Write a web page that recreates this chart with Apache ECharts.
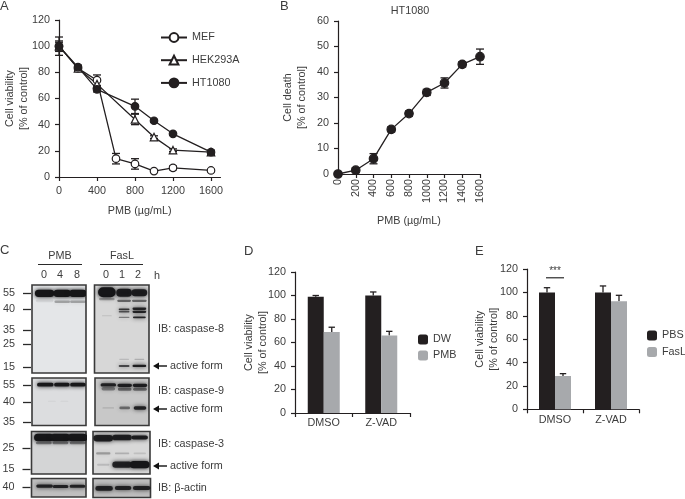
<!DOCTYPE html>
<html><head><meta charset="utf-8">
<style>html,body{margin:0;padding:0;background:#fff}#c{width:685px;height:499px}</style>
<script src="https://cdn.jsdelivr.net/npm/echarts@6/dist/echarts.min.js"></script>
</head><body><div id="c"></div>
<script>
// ---- Panel A
const mefDose=[0,200,400,600,800,1000,1200,1600];
const mefVal=[100,83,74,14,10,4.5,7,5];
const mefErr=[4,1.5,4,4,4,1,1.5,1];
const hekDose=[0,200,400,800,1000,1200,1600];
const hekVal=[100,83,71,44,30.5,20.5,19];
const hekErr=[3,1.5,3,4,1,1,1];
const htDose=[0,200,400,800,1000,1200,1600];
const htVal=[100,84,67,54,43,33,19];
const htErr=[7,1.5,2,5.5,1,1,1.5];
// ---- Panel B
const deathDose=[0,200,400,600,800,1000,1200,1400,1600];
const deathVal=[0,1.5,6,17.5,23.7,32,35.7,43,46];
const deathErr=[0.5,1,2,1,1,1.2,2,1,3];
// ---- Panel D
const barCats=['DMSO','Z-VAD'];
const dwVal=[99,100]; const dwErr=[1,3];
const pmbVal=[69,66]; const pmbErr=[4,3.5];
// ---- Panel E
const pbsVal=[100,100]; const pbsErr=[4,5.5];
const faslVal=[28.5,92.5]; const faslErr=[2,5];
// ---- Panel C blots: [lane, migration %, intensity, band width, band thickness]
const cas8Pmb=[[0.2,9.5,1,1.0,7],[1.18,9.5,1,0.9,7],[2.05,9.5,1,0.9,7],[0.2,18,0.08,0.9,2.5],[1.18,19,0.3,0.8,2.5],[2.05,19,0.3,0.8,2.5]];
const cas8Fas=[[0.18,8.3,1,0.9,9.5],[1.13,8.8,0.95,0.8,7.5],[1.97,8.8,0.95,0.8,6.5],[0.18,16,0.3,0.8,2],[1.13,18,0.55,0.7,2],[1.97,18,0.55,0.75,2],[1.13,27.6,0.8,0.55,1.6],[1.97,27,0.9,0.7,2.2],[1.13,30.5,0.65,0.55,1.4],[1.97,30.5,0.9,0.7,2.2],[1.13,36.7,0.45,0.55,1.2],[1.97,36.7,0.9,0.65,1.6],[0.18,35,0.12,0.5,1],[1.13,92,0.7,0.55,1.8],[1.97,92,0.95,0.7,2.2],[1.13,84.5,0.15,0.5,1],[1.97,84.5,0.2,0.5,1]];
const cas9Pmb=[[0.24,14,0.98,0.85,6.5],[1.16,14,0.98,0.8,6.5],[2.05,14,0.98,0.8,6.5],[0.6,49,0.05,0.4,2],[1.3,49,0.05,0.4,2]];
const cas9Fas=[[0.24,14.5,0.9,0.8,6],[1.15,15.5,0.92,0.75,6],[2,15.5,0.92,0.75,6],[0.24,22.5,0.4,0.7,6],[1.15,23.5,0.5,0.7,6],[2,23.5,0.5,0.7,6],[0.24,63,0.1,0.6,3],[1.15,63,0.5,0.55,5],[2,63,0.9,0.65,6]];
const cas3Pmb=[[0.18,14,1,1.0,15],[1.09,14,1,1.0,15],[2.04,14,1,1.0,15],[0.18,27,0.45,0.8,5],[1.09,27,0.45,0.8,5],[2.04,27,0.45,0.8,5]];
const cas3Fas=[[0.04,16,0.92,0.95,13],[1.03,14,0.92,0.95,11],[1.96,14,0.95,0.8,8],[0.04,51.5,0.3,0.7,4],[1.03,51.5,0.2,0.7,3],[1.96,51.5,0.12,0.6,3],[0.04,78,0.15,0.6,4],[1.03,78,0.9,0.95,12],[1.96,78,1,0.95,14]];
const actinPmb=[[0.22,41,0.9,0.85,14],[1.1,43,0.9,0.8,14],[2.03,42,0.9,0.8,14]];
const actinFas=[[0.08,52,0.9,0.85,20],[1.07,50,0.9,0.8,18],[2.04,50,0.9,0.85,18]];
// kDa ladders: [migration %, label]
const cas8Ladder=[[9.5,'55'],[27.6,'40'],[51,'35'],[67.4,'25'],[93.5,'15']];
const cas9Ladder=[[14.8,'55'],[50,'40'],[93.6,'35']];
const cas3Ladder=[[16.4,'35'],[38.4,'25'],[88,'15']];
const actinLadder=[[46,'40']];

const FONT='"Liberation Sans",Arial,sans-serif';
const INK='#231f20', TXT='#3c3c3c', GREY='#a7a9ac', FS=10.8;
const grids=[],xAxes=[],yAxes=[],series=[];

function addGrid(g,x,y){ grids.push(Object.assign({containLabel:false,outerBoundsMode:'none'},g)); xAxes.push(Object.assign({gridIndex:grids.length-1,nameMoveOverlap:false},x)); yAxes.push(Object.assign({gridIndex:grids.length-1,nameMoveOverlap:false},y)); return grids.length-1; }
const axLine={show:true,onZero:false,lineStyle:{color:INK,width:1.2}};
const axTick={show:true,length:4,inside:false,lineStyle:{color:INK,width:1.2}};
const axLab={color:TXT,fontSize:FS,fontFamily:FONT};
const nameSt={color:TXT,fontSize:FS,fontFamily:FONT,lineHeight:14};
const plain=v=>String(v);

function errSeries(i,name,xs,vals,errs,both,off,z){
  series.push({type:'custom',name:name+'-err',xAxisIndex:i,yAxisIndex:i,z:z||2,silent:true,clip:false,
    data:xs.map((x,k)=>[x,vals[k],vals[k]+errs[k],both?vals[k]-errs[k]:vals[k]]),encode:{x:0,y:2},
    renderItem:(p,api)=>{const a=api.coord([api.value(0),api.value(2)]),b=api.coord([api.value(0),api.value(3)]);
      const X=a[0]+(off||0),w=both?4:3.2,st={stroke:INK,lineWidth:1.3};
      const ch=[{type:'line',shape:{x1:X,y1:a[1],x2:X,y2:b[1]},style:st},{type:'line',shape:{x1:X-w,y1:a[1],x2:X+w,y2:a[1]},style:st}];
      if(both)ch.push({type:'line',shape:{x1:X-w,y1:b[1],x2:X+w,y2:b[1]},style:st});
      return {type:'group',children:ch};}});
}
function lineSeries(i,name,xs,vals,sym,size,fill){
  series.push({type:'line',name,xAxisIndex:i,yAxisIndex:i,z:4,clip:false,data:xs.map((x,k)=>[x,vals[k]]),
    symbol:sym,symbolSize:size,showSymbol:true,lineStyle:{color:INK,width:1.3},
    itemStyle:{color:fill,borderColor:INK,borderWidth:1.2}});
}
// A
const A=addGrid({left:59,top:20,width:161.5,height:157},
 {type:'value',min:0,max:1700,axisLine:axLine,axisTick:Object.assign({},axTick,{customValues:[0,400,800,1200,1600]}),
  axisLabel:Object.assign({},axLab,{customValues:[0,400,800,1200,1600],margin:9,formatter:plain}),splitLine:{show:false},
  name:'PMB (µg/mL)',nameLocation:'middle',nameGap:27,nameTextStyle:nameSt},
 {type:'value',min:0,max:120,interval:20,axisLine:axLine,axisTick:axTick,axisLabel:Object.assign({},axLab,{margin:9}),splitLine:{show:false},
  name:'Cell viability\n[% of control]',nameLocation:'middle',nameGap:28,nameRotate:90,nameTextStyle:nameSt});
errSeries(A,'MEF',mefDose,mefVal,mefErr,true);errSeries(A,'HEK',hekDose,hekVal,hekErr,true);errSeries(A,'HT',htDose,htVal,htErr,true);
lineSeries(A,'MEF',mefDose,mefVal,'circle',7.5,'#fff');
lineSeries(A,'HEK293A',hekDose,hekVal,'triangle',7.5,'#fff');
lineSeries(A,'HT1080',htDose,htVal,'circle',7.5,INK);
// B
const B=addGrid({left:338,top:21,width:142,height:153},
 {type:'value',min:0,max:1600,interval:200,axisLine:axLine,axisTick:axTick,axisLabel:Object.assign({},axLab,{rotate:90,margin:5,formatter:plain}),splitLine:{show:false},
  name:'PMB (µg/mL)',nameLocation:'middle',nameGap:40,nameTextStyle:nameSt},
 {type:'value',min:0,max:60,interval:10,axisLine:axLine,axisTick:axTick,axisLabel:Object.assign({},axLab,{margin:9}),splitLine:{show:false},
  name:'Cell death\n[% of control]',nameLocation:'middle',nameGap:29,nameRotate:90,nameTextStyle:nameSt});
errSeries(B,'death',deathDose,deathVal,deathErr,true);
lineSeries(B,'Death',deathDose,deathVal,'circle',8.5,INK);
// D and E bars
const BW=16;
function barPanel(g,n1,v1,e1,n2,v2,e2,gap){
  const i=addGrid(g,{type:'category',data:barCats,axisLine:axLine,axisTick:Object.assign({},axTick,{alignWithLabel:false}),axisLabel:Object.assign({},axLab,{margin:5}),splitLine:{show:false}},
   {type:'value',min:0,max:120,interval:20,axisLine:axLine,axisTick:axTick,axisLabel:Object.assign({},axLab,{margin:9}),splitLine:{show:false},
    name:'Cell viability\n[% of control]',nameLocation:'middle',nameGap:gap,nameRotate:90,nameTextStyle:nameSt});
  series.push({type:'bar',name:n1,xAxisIndex:i,yAxisIndex:i,data:v1,barWidth:BW,barGap:0,itemStyle:{color:INK},z:3});
  series.push({type:'bar',name:n2,xAxisIndex:i,yAxisIndex:i,data:v2,barWidth:BW,barGap:0,itemStyle:{color:GREY},z:3});
  errSeries(i,n1,[0,1],v1,e1,false,-BW/2,2);errSeries(i,n2,[0,1],v2,e2,false,BW/2,2);
  return i;
}
barPanel({left:295,top:272,width:115,height:141},'DW',dwVal,dwErr,'PMB',pmbVal,pmbErr,24.5);
const E=barPanel({left:527,top:269,width:112,height:140.3},'PBS',pbsVal,pbsErr,'FasL',faslVal,faslErr,25.5);
const sigBar=[[0,112.5]];
series.push({type:'custom',name:'sig',xAxisIndex:E,yAxisIndex:E,z:5,silent:true,clip:false,data:sigBar,encode:{x:0,y:1},
  renderItem:(p,api)=>{const c=api.coord([api.value(0),api.value(1)]);
   return {type:'group',children:[{type:'line',shape:{x1:c[0]-9,y1:c[1],x2:c[0]+9,y2:c[1]},style:{stroke:'#3a3a3a',lineWidth:1.3}},
     {type:'text',style:{x:c[0],y:c[1]-7,text:'***',align:'center',verticalAlign:'middle',fill:TXT,fontSize:10,fontFamily:FONT}}]};}});
// C blots
function blot(g,bg,bands,ladder){
  const ys=ladder?ladder.map(d=>d[0]):[];
  const i=addGrid(Object.assign({show:true,backgroundColor:bg,borderColor:'#3a3a3a',borderWidth:1.6},g),
   {type:'value',min:-0.5,max:2.5,show:false},
   {type:'value',inverse:true,min:0,max:100,show:!!ladder,offset:1,axisLine:{show:false,onZero:false},splitLine:{show:false},
    axisTick:{show:true,length:8,lineStyle:{color:'#2a2a2a',width:1.3},customValues:ys},
    axisLabel:Object.assign({},axLab,{show:!!ladder,margin:16,hideOverlap:false,customValues:ys,formatter:v=>{const m=(ladder||[]).find(d=>d[0]===v);return m?m[1]:'';}})});
  series.push({type:'custom',xAxisIndex:i,yAxisIndex:i,z:3,silent:true,clip:true,data:bands,encode:{x:0,y:1},
   renderItem:(p,api)=>{const c=api.coord([api.value(0),api.value(1)]),s=api.size([api.value(3),api.value(4)]),a=api.value(2),col='rgba(22,22,24,'+a+')',w=s[0]*1.08,h=s[1]*1.2;
    return {type:'rect',shape:{x:c[0]-w/2,y:c[1]-h/2,width:w,height:h,r:h/2},style:{fill:col,shadowBlur:4,shadowColor:col}};}});
}
blot({left:32,top:285,width:54,height:88},'#e4e6e8',cas8Pmb,cas8Ladder);
blot({left:94.5,top:285,width:54.5,height:88},'#d7d7d7',cas8Fas);
blot({left:32,top:378,width:54,height:47.5},'#dcdddf',cas9Pmb,cas9Ladder);
blot({left:95,top:378,width:54,height:47.5},'#c8c8c8',cas9Fas);
blot({left:31.5,top:431.5,width:54.5,height:42.5},'#d4d5d6',cas3Pmb,cas3Ladder);
blot({left:93,top:431.5,width:57,height:42.5},'#d8d8d8',cas3Fas);
blot({left:31.5,top:478.5,width:54.5,height:18.5},'#bfbfbf',actinPmb,actinLadder);
blot({left:93,top:478.5,width:57.5,height:19},'#bdbdbd',actinFas);

// text annotations
function T(x,y,text,o){return {type:'text',x,y,style:Object.assign({text,fill:TXT,fontSize:FS,fontFamily:FONT,align:'left',verticalAlign:'middle'},o||{})};}
const C={align:'center'};
const g=[
 T(0,6,'A',{fontSize:13}),T(280,6,'B',{fontSize:13}),T(0,250,'C',{fontSize:13}),T(244,251,'D',{fontSize:13}),T(475,251,'E',{fontSize:13}),
 T(410,11,'HT1080',C),T(60,256,'PMB',C),T(122,256,'FasL',C),
 T(44,275,'0',C),T(60,275,'4',C),T(77,275,'8',C),T(106,275,'0',C),T(122,275,'1',C),T(138,275,'2',C),T(157,276,'h',C),
 T(158,329,'IB: caspase-8'),T(158,391,'IB: caspase-9'),T(158,444,'IB: caspase-3'),T(158,488,'IB: β-actin'),
 T(170,366,'active form'),T(170,409,'active form'),T(170,466,'active form'),
 {type:'line',shape:{x1:38,y1:264.5,x2:82,y2:264.5},style:{stroke:'#2a2a2a',lineWidth:1.2}},
 {type:'line',shape:{x1:100,y1:264.5,x2:143,y2:264.5},style:{stroke:'#2a2a2a',lineWidth:1.2}}
];
[366,409,466].forEach(y=>{
 g.push({type:'line',shape:{x1:157,y1:y,x2:167,y2:y},style:{stroke:'#111',lineWidth:1.4}});
 g.push({type:'polygon',shape:{points:[[153,y],[159,y-3.5],[159,y+3.5]]},style:{fill:'#111'}});
});

const legText={color:TXT,fontSize:FS,fontFamily:FONT};
const opt={animation:false,backgroundColor:'#fff',textStyle:{fontFamily:FONT},grid:grids,xAxis:xAxes,yAxis:yAxes,series,graphic:g,
 legend:[
  {left:160,top:32,orient:'vertical',padding:0,itemWidth:26,itemHeight:11,itemGap:11.7,data:['MEF','HEK293A','HT1080'],textStyle:legText,selectedMode:false},
  {left:418,top:334,orient:'vertical',padding:0,itemWidth:10,itemHeight:10,itemGap:5,data:['DW','PMB'],textStyle:legText,selectedMode:false},
  {left:647,top:330,orient:'vertical',padding:0,itemWidth:10,itemHeight:10,itemGap:5.5,data:['PBS','FasL'],textStyle:legText,selectedMode:false}
 ]};
echarts.init(document.getElementById('c'),null,{renderer:'canvas'}).setOption(opt);
</script></body></html>
